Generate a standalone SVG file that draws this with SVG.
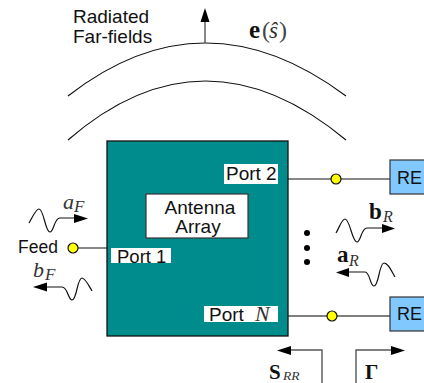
<svg xmlns="http://www.w3.org/2000/svg" width="424" height="383" viewBox="0 0 424 383">
<style>
.l{fill:none;stroke:#111;stroke-width:1.2}
.g{fill:none;stroke:#555;stroke-width:1.4}
.t{font-family:"Liberation Sans",Arial,sans-serif;font-size:19px;fill:#111}
.m{font-family:"Liberation Serif",serif;font-style:italic;fill:#333}
.r{font-family:"Liberation Serif",serif;fill:#444}
.b{font-family:"Liberation Serif",serif;font-weight:bold;fill:#111}
.port{fill:#ffff00;stroke:#111;stroke-width:1.2}
.re{fill:#80c8ff;stroke:#333;stroke-width:1.2}
.h{fill:#000}
</style>
<rect width="424" height="383" fill="#fff"/>
<g id="connectors">
<path class="l" d="M68 96Q204 -10 346 96"/>
<path class="l" d="M68 140Q204 22 346 140"/>
<path class="g" d="M205 43V21"/><path class="h" d="M205 8L209.500 22H200.500Z"/>
<path class="g" d="M78 248H107"/>
<path class="l" d="M288 179H390"/>
<path class="g" d="M288 316H390"/>
<path class="l" d="M29 223C33 216 36 209 39 209C44 209 45 232 50 232C54 232 54 218 60 218H76"/><path class="h" d="M88 218.500L74 223V214Z"/>
<path class="l" d="M92 291C88 284 85 278 82 278C77 278 77 300 72 300C68 300 68 287 62 287H45"/><path class="h" d="M33 287L47 282.500V291.500Z"/>
<path class="l" d="M336 233C340 226 342 219 345 219C350 219 352 242 357 242C361 242 361 228 367 228H384"/><path class="h" d="M395 228.500L382 233V224Z"/>
<path class="l" d="M395 277C391 270 388 263 384 263C379 263 379 286 374 286C370 286 370 272 365 272H347"/><path class="h" d="M336 272.500L349 268V277Z"/>
<path class="g" d="M322 383V350H290"/><path class="h" d="M277 350.500L291 346V355Z"/>
<path class="g" d="M356 383V350H392"/><path class="h" d="M405 350.500L391 346V355Z"/>
</g>
<g id="array">
<rect x="107" y="141" width="181" height="195" fill="#008c8c" stroke="#111" stroke-width="1.3"/>
</g>
<g id="antenna-array">
<rect x="146" y="194" width="102" height="44" fill="#fff" stroke="#333" stroke-width="1.2"/>
<text class="t" x="200" y="214" text-anchor="middle">Antenna</text>
<text class="t" x="198" y="233" text-anchor="middle">Array</text>
</g>
<g id="port1">
<rect x="111" y="248" width="60" height="15" fill="#fff"/>
<text class="t" x="117" y="262.500" style="font-size:18.500px">Port 1</text>
</g>
<g id="port2">
<rect x="224" y="164" width="54" height="20" fill="#fff"/>
<text class="t" x="226" y="180">Port 2</text>
</g>
<g id="portN">
<rect x="204" y="306" width="74" height="16" fill="#fff"/>
<text class="t" x="209" y="321">Port</text>
<text class="m" x="255" y="321" font-size="22">N</text>
</g>
<g id="feed">
<text class="t" x="18" y="253" style="font-size:17.500px">Feed</text>
<circle class="port" cx="73" cy="248" r="5"/>
</g>
<g id="junction2"><circle class="port" cx="336" cy="179" r="5"/></g>
<g id="junctionN"><circle class="port" cx="332" cy="316" r="5"/></g>
<g id="re1">
<rect class="re" x="390" y="160" width="36" height="34"/>
<text class="t" x="397" y="184" style="font-size:18px">RE</text>
</g>
<g id="re2">
<rect class="re" x="390" y="297" width="36" height="34"/>
<text class="t" x="397" y="320" style="font-size:18px">RE</text>
</g>
<g id="dots">
<circle cx="307" cy="233" r="3" fill="#000"/>
<circle cx="307" cy="248" r="3" fill="#000"/>
<circle cx="307" cy="262" r="3" fill="#000"/>
</g>
<g id="labels">
<text class="t" x="73" y="23">Radiated</text>
<text class="t" x="73" y="43">Far-fields</text>
<text class="b" x="249" y="38" font-size="25">e</text>
<text class="r" x="262" y="38" font-size="24">(</text>
<text class="m" x="269" y="38" font-size="23">ŝ</text>
<text class="r" x="279" y="38" font-size="24">)</text>
<text class="m" x="63" y="209" font-size="22">a</text><text class="m" x="74" y="212" font-size="17">F</text>
<text class="m" x="33" y="277" font-size="22">b</text><text class="m" x="45" y="280" font-size="17">F</text>
<text class="b" x="369" y="219" font-size="23">b</text><text class="m" x="383" y="222" font-size="16">R</text>
<text class="b" x="337" y="262" font-size="23">a</text><text class="m" x="349" y="266" font-size="16">R</text>
<text class="b" x="269" y="378.500" font-size="21">S</text><text class="m" x="283" y="380" font-size="13.500">RR</text>
<text class="b" x="365" y="378.500" font-size="21">Γ</text>
</g>
</svg>
